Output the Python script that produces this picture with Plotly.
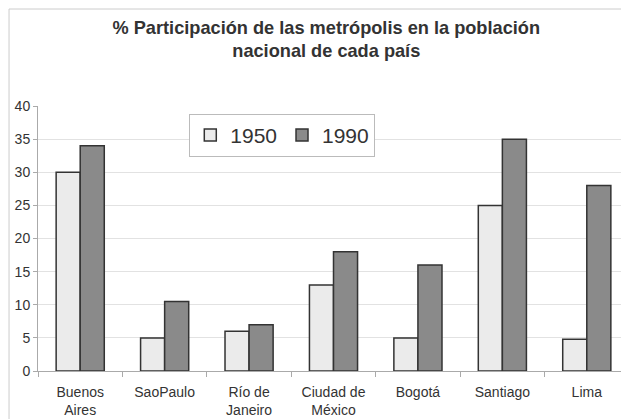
import plotly.graph_objects as go

ciudades = ["Buenos<br>Aires", "SaoPaulo", "Río de<br>Janeiro", "Ciudad de<br>México", "Bogotá", "Santiago", "Lima"]
p1950 = [30, 5, 6, 13, 5, 25, 4.8]
p1990 = [34, 10.5, 7, 18, 16, 35, 28]

FONT = "Liberation Sans, Arial, sans-serif"

fig = go.Figure()
fig.add_trace(go.Bar(x=ciudades, y=p1950, name="1950",
                     marker=dict(color="#ebebeb", line=dict(color="#333333", width=1.5))))
fig.add_trace(go.Bar(x=ciudades, y=p1990, name="1990",
                     marker=dict(color="#8a8a8a", line=dict(color="#333333", width=1.5))))

# the page adds an 8px body margin, so the margins are offset to match
fig.update_layout(
    width=629, height=419,
    barmode="group", bargap=0.43, bargroupgap=0,
    paper_bgcolor="white", plot_bgcolor="white",
    margin=dict(l=30, r=8, t=98, b=56),
    font=dict(family=FONT, color="#333333", size=14),
    title=dict(text="<b>% Participación de las metrópolis en la población<br>nacional de cada país</b>",
               x=0.506, xanchor="center", y=0.939, yanchor="top",
               font=dict(size=18.2, color="#333333")),
    legend=dict(orientation="h", x=0.256, y=0.97, xanchor="left", yanchor="top",
                bgcolor="white", bordercolor="#bbbbbb", borderwidth=1,
                font=dict(size=21, color="#333333"), itemwidth=30,
                traceorder="normal"),
    xaxis=dict(showline=True, linecolor="#aaaaaa", ticks="outside", ticklen=5,
               tickcolor="#aaaaaa", tickson="boundaries", ticklabelstandoff=8,
               tickfont=dict(size=14)),
    yaxis=dict(range=[0, 40], dtick=5, showgrid=True, gridcolor="#e2e2e2",
               showline=True, linecolor="#aaaaaa", ticks="outside", ticklen=4,
               tickcolor="#aaaaaa", zeroline=False, tickfont=dict(size=14)),
)
# outer chart border, cut off at the right and bottom edges
fig.add_shape(type="rect", xref="paper", yref="paper", x0=-0.049, x1=1.2, y0=-0.4, y1=1.366,
              line=dict(color="#cccccc", width=1), layer="below")

fig.write_html("out.html")
